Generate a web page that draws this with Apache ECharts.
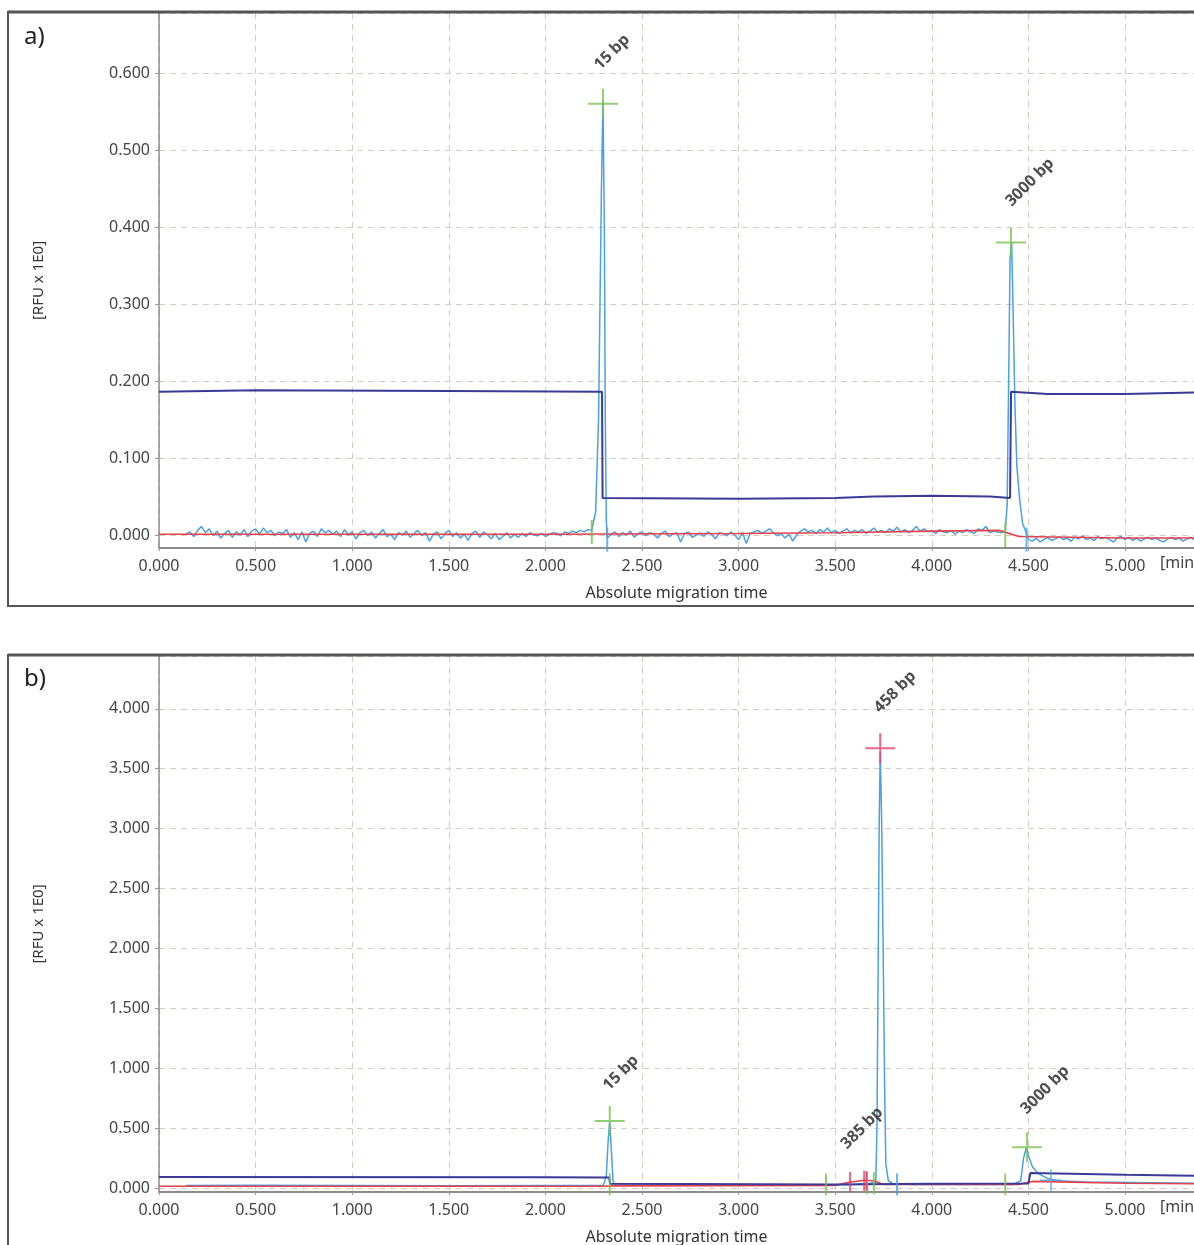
<!DOCTYPE html>
<html>
<head>
<meta charset="utf-8">
<script src="https://cdn.jsdelivr.net/npm/echarts@6/dist/echarts.min.js"></script>
<style>
  html, body { margin: 0; padding: 0; background: #fff; }
  #chart { width: 1194px; height: 1245px; }
</style>
</head>
<body>
<div id="chart"></div>
<script>
// ---- data ----
const noiseStep = 0.02

// panel a) light blue signal: baseline noise pieces (start time, values) and the two peaks
const noiseA1Start = 0.14
const noiseA1 = [
  0.001, 0.004, -0.002, 0.006, 0.011, 0.003, 0.008, -0.001, 0.005, -0.004,
  0.002, 0.006, -0.003, 0.004, 0.000, 0.007, -0.002, 0.005, 0.008, 0.001,
  0.009, 0.003, 0.006, -0.001, 0.004, 0.002, 0.007, -0.003, 0.003, -0.006,
  0.004, -0.009, 0.002, 0.005, -0.002, 0.008, 0.003, 0.006, 0.001, 0.005,
  -0.002, 0.007, 0.000, 0.004, -0.005, 0.003, 0.006, -0.001, 0.004, -0.004,
  0.002, 0.007, -0.002, 0.001, -0.006, 0.003, 0.000, 0.005, -0.003, 0.002,
  0.006, -0.001, 0.003, -0.008, 0.001, 0.004, -0.005, 0.002, 0.006, -0.002,
  0.003, -0.004, 0.001, -0.007, 0.002, 0.005, -0.003, 0.004, 0.000, -0.005,
  0.002, -0.006, -0.002, 0.003, -0.004, 0.001, -0.003, 0.002, -0.002, 0.003,
  0.000, -0.001, 0.002, -0.002, 0.001, 0.003, 0.002, -0.001, 0.004, 0.002,
  0.005, 0.003, 0.006, 0.004, 0.007
]
const peakA1 = [
  [2.24, 0.006], [2.26, 0.03], [2.275, 0.15], [2.29, 0.45], [2.298, 0.565],
  [2.305, 0.4], [2.31, 0.15], [2.315, 0.02], [2.32, -0.004]
]
const noiseA2Start = 2.34
const noiseA2 = [
  0.001, 0.004, -0.002, 0.003, 0.000, 0.005, -0.003, 0.002, 0.004, -0.001,
  0.003, 0.001, -0.004, 0.002, 0.005, -0.002, 0.001, 0.003, -0.009, 0.002,
  0.004, -0.003, 0.000, 0.003, -0.002, 0.004, 0.001, -0.005, 0.003, 0.002,
  -0.001, 0.004, 0.000, -0.006, 0.003, -0.011, 0.002, 0.004, 0.006, 0.002,
  0.005, 0.008, 0.003, -0.001, 0.002, -0.004, 0.001, -0.008, 0.000, 0.005,
  0.008, 0.004, 0.006, 0.002, 0.007, 0.004, 0.009, 0.003, 0.006, 0.002,
  0.005, 0.008, 0.003, 0.006, 0.004, 0.007, 0.002, 0.005, 0.009, 0.004,
  0.006, 0.003, 0.008, 0.005, 0.010, 0.004, 0.007, 0.003, 0.006, 0.011,
  0.005, 0.008, 0.004, 0.006, 0.002, 0.007, 0.004, 0.003, 0.006, 0.001,
  0.005, 0.003, 0.007, 0.004, 0.002, 0.008, 0.006, 0.011, 0.003, 0.005,
  0.004
]
const peakA2 = [
  [4.36, 0.003], [4.38, 0.005], [4.39, 0.04], [4.40, 0.25], [4.405, 0.36],
  [4.413, 0.38], [4.42, 0.3], [4.43, 0.17], [4.44, 0.09], [4.455, 0.045],
  [4.47, 0.015], [4.49, 0.002], [4.50, -0.006]
]
const noiseA3Start = 4.52
const noiseA3 = [
  -0.008, -0.004, -0.009, -0.006, -0.003, -0.007, -0.005, -0.002, -0.006, -0.004,
  -0.008, -0.003, -0.005, -0.001, -0.006, -0.004, -0.007, -0.002, -0.005, -0.003,
  -0.006, -0.009, -0.004, -0.002, -0.006, -0.003, -0.007, -0.004, -0.008, -0.005,
  -0.003, -0.006, -0.004, -0.007, -0.009, -0.005, -0.003, -0.006, -0.004, -0.008,
  -0.005, -0.003, -0.006
]
// panel a) dark blue step line and red baseline
const stepA = [
  [0, 0.186], [0.5, 0.188], [1.5, 0.187], [2.293, 0.186], [2.296, 0.048],
  [3.0, 0.047], [3.5, 0.048], [3.7, 0.050], [4.0, 0.051], [4.3, 0.050],
  [4.405, 0.048], [4.41, 0.186], [4.6, 0.183], [5.0, 0.183], [5.36, 0.185]
]
const baseA = [
  [0, 0.001], [2.0, 0.001], [3.0, 0.002], [3.5, 0.003], [4.0, 0.005],
  [4.35, 0.006], [4.45, -0.002], [5.0, -0.004], [5.36, -0.004]
]
// panel a) markers and peak names
const crossesA = [[2.298, 0.56], [4.41, 0.38]]
const startTicksA = [[2.24, 0.004], [4.38, 0.0]]
const endTicksA = [[2.32, -0.006], [4.49, -0.006]]
const labelPosA = [[2.345, 0.627], [4.508, 0.458]]
const labelTextA = ['15 bp', '3000 bp']

// panel b)
const blueB = [
  [0.14, 0.02], [0.5, 0.022], [1.0, 0.02], [1.5, 0.018], [2.0, 0.02], [2.3, 0.022],
  [2.315, 0.1], [2.325, 0.4], [2.333, 0.55], [2.342, 0.3], [2.35, 0.06], [2.36, 0.025],
  [2.8, 0.022], [3.2, 0.024], [3.45, 0.025], [3.6, 0.03], [3.68, 0.04], [3.71, 0.05],
  [3.716, 0.5], [3.722, 1.8], [3.728, 3.1], [3.733, 3.64], [3.74, 3.1], [3.748, 2.0],
  [3.756, 0.8], [3.762, 0.2], [3.775, 0.06], [3.8, 0.035], [3.9, 0.03], [4.2, 0.03],
  [4.42, 0.03], [4.46, 0.06], [4.475, 0.25], [4.49, 0.34], [4.5, 0.27], [4.52, 0.18],
  [4.55, 0.12], [4.6, 0.08], [4.65, 0.06], [4.8, 0.05], [5.36, 0.04]
]
const stepB = [
  [0, 0.092], [2.0, 0.09], [2.33, 0.088], [2.335, 0.035], [3.5, 0.03], [4.0, 0.035],
  [4.5, 0.038], [4.51, 0.125], [5.0, 0.11], [5.36, 0.102]
]
const baseB = [
  [0, 0.015], [2.3, 0.015], [2.35, 0.018], [3.5, 0.022], [3.58, 0.05], [3.65, 0.065],
  [3.7, 0.06], [3.75, 0.03], [4.45, 0.03], [4.52, 0.055], [5.0, 0.04], [5.36, 0.035]
]
const greenCrossesB = [[2.333, 0.56], [4.493, 0.34]]
const redCrossesB = [[3.733, 3.67]]
const blueCrossesB = [[4.617, 0.065]]
const greenTicksB = [[2.333, 0.03], [3.452, 0.03], [3.665, 0.04], [3.70, 0.04], [4.38, 0.03]]
const redTicksB = [[3.577, 0.05], [3.65, 0.06], [3.662, 0.06]]
const blueTicksB = [[3.82, 0.03]]
const labelPosB = [[2.391, 0.96], [3.639, 0.5], [3.81, 4.14], [4.586, 0.818]]
const labelTextB = ['15 bp', '385 bp', '458 bp', '3000 bp']

// ---- build chart ----
const noisePairs = (start, values) =>
  values.map((v, i) => [+(start + i * noiseStep).toFixed(3), v])

const blueA = [
  ...noisePairs(noiseA1Start, noiseA1), ...peakA1,
  ...noisePairs(noiseA2Start, noiseA2), ...peakA2,
  ...noisePairs(noiseA3Start, noiseA3)
]

const BLUE = '#4aa0e2'
const NAVY = '#3c3a98'
const RED = '#e6404a'
const GREEN = '#78c250'
const PINK = '#e0406c'
const GRID_LINE = '#d9cbc3'
const FONT = '"Noto Sans", "DejaVu Sans", sans-serif'

const crossPath = 'path://M0,14H30V16H0Z M14,0H16V30H14Z'

const xAxisBase = (gridIndex) => ({
  type: 'value',
  gridIndex,
  min: 0,
  max: 5.357,
  interval: 0.5,
  name: 'Absolute migration time',
  nameLocation: 'middle',
  nameGap: 37,
  nameTextStyle: { color: '#333', fontSize: 16, fontFamily: FONT },
  axisLine: { onZero: false, lineStyle: { color: '#8c8c8c', width: 2 } },
  axisTick: { length: 3, lineStyle: { color: '#999' } },
  axisLabel: {
    color: '#444', fontSize: 16, fontFamily: FONT, margin: 10,
    showMaxLabel: false,
    formatter: (v) => v.toFixed(3)
  },
  splitLine: { show: true, lineStyle: { color: GRID_LINE, type: [6, 5], width: 1 } }
})

const yAxisBase = (gridIndex, min, max, splitNumber) => ({
  type: 'value',
  gridIndex,
  min,
  max,
  splitNumber,
  name: '[RFU x 1E0]',
  nameLocation: 'middle',
  nameGap: 113,
  nameRotate: 90,
  nameTextStyle: { color: '#333', fontSize: 15, fontFamily: FONT },
  axisLine: { show: true, lineStyle: { color: '#8c8c8c', width: 1.5 } },
  axisTick: { show: true, length: 4, lineStyle: { color: '#999' } },
  axisLabel: {
    color: '#444', fontSize: 16, fontFamily: FONT, margin: 9,
    showMinLabel: false, showMaxLabel: false,
    formatter: (v) => v.toFixed(3)
  },
  splitLine: { show: true, lineStyle: { color: GRID_LINE, type: [6, 5], width: 1 } }
})

const lineSeries = (idx, data, color, width, z) => ({
  type: 'line',
  xAxisIndex: idx,
  yAxisIndex: idx,
  data,
  showSymbol: false,
  symbol: 'none',
  z,
  lineStyle: { color, width },
  animation: false
})

const markSeries = (idx, data, symbol, size, color, z) => ({
  type: 'scatter',
  xAxisIndex: idx,
  yAxisIndex: idx,
  data,
  symbol,
  symbolSize: size,
  itemStyle: { color },
  z,
  animation: false
})

const labelSeries = (idx, pos, texts) => ({
  type: 'scatter',
  xAxisIndex: idx,
  yAxisIndex: idx,
  data: pos.map((p, i) => ({ value: p, name: texts[i] })),
  symbolSize: 0,
  z: 10,
  label: {
    show: true,
    position: 'inside',
    rotate: 45,
    formatter: '{b}',
    color: '#222',
    fontSize: 16,
    fontWeight: 'bold',
    fontFamily: FONT
  },
  animation: false
})

const chart = echarts.init(document.getElementById('chart'))

const option = {
  backgroundColor: '#fff',
  animation: false,
  grid: [
    { left: 159, right: 0, top: 13, height: 535, outerBoundsMode: 'none' },
    { left: 159, right: 0, top: 656, height: 536, outerBoundsMode: 'none' }
  ],
  xAxis: [xAxisBase(0), xAxisBase(1)],
  yAxis: [
    yAxisBase(0, -0.0169, 0.6779, 7),
    yAxisBase(1, -0.0334, 4.4407, 9)
  ],
  graphic: [
    { type: 'rect', z: 100, shape: { x: 8, y: 12, width: 1200, height: 594 },
      style: { fill: 'none', stroke: '#555', lineWidth: 2 } },
    { type: 'line', z: 100, shape: { x1: 8, y1: 12, x2: 1194, y2: 12 },
      style: { stroke: '#555', lineWidth: 3 } },
    { type: 'rect', z: 100, shape: { x: 8, y: 655, width: 1200, height: 620 },
      style: { fill: 'none', stroke: '#555', lineWidth: 2 } },
    { type: 'line', z: 100, shape: { x1: 8, y1: 655, x2: 1194, y2: 655 },
      style: { stroke: '#555', lineWidth: 3 } },
    { type: 'text', left: 24, top: 25,
      style: { text: 'a)', fontSize: 24, fill: '#222', fontFamily: FONT } },
    { type: 'text', left: 24, top: 667,
      style: { text: 'b)', fontSize: 24, fill: '#222', fontFamily: FONT } },
    { type: 'text', left: 1160, top: 555,
      style: { text: '[min]', fontSize: 16, fill: '#444', fontFamily: FONT } },
    { type: 'text', left: 1160, top: 1199,
      style: { text: '[min]', fontSize: 16, fill: '#444', fontFamily: FONT } }
  ],
  series: [
    // panel a
    lineSeries(0, blueA, BLUE, 1.5, 2),
    lineSeries(0, baseA, RED, 1.6, 3),
    lineSeries(0, stepA, NAVY, 2, 4),
    markSeries(0, crossesA, crossPath, [30, 30], GREEN, 6),
    markSeries(0, startTicksA, 'rect', [2, 24], GREEN, 6),
    markSeries(0, endTicksA, 'rect', [2, 24], BLUE, 5),
    labelSeries(0, labelPosA, labelTextA),
    // panel b
    lineSeries(1, blueB, BLUE, 1.5, 2),
    lineSeries(1, baseB, RED, 1.6, 3),
    lineSeries(1, stepB, NAVY, 2, 4),
    markSeries(1, greenCrossesB, crossPath, [30, 30], GREEN, 6),
    markSeries(1, redCrossesB, crossPath, [30, 30], PINK, 6),
    markSeries(1, blueCrossesB, crossPath, [22, 22], BLUE, 6),
    markSeries(1, greenTicksB, 'rect', [2, 22], GREEN, 6),
    markSeries(1, redTicksB, 'rect', [2, 20], PINK, 6),
    markSeries(1, blueTicksB, 'rect', [2, 22], BLUE, 6),
    labelSeries(1, labelPosB, labelTextB)
  ]
}

chart.setOption(option)
window.addEventListener('resize', () => chart.resize())
</script>
</body>
</html>
